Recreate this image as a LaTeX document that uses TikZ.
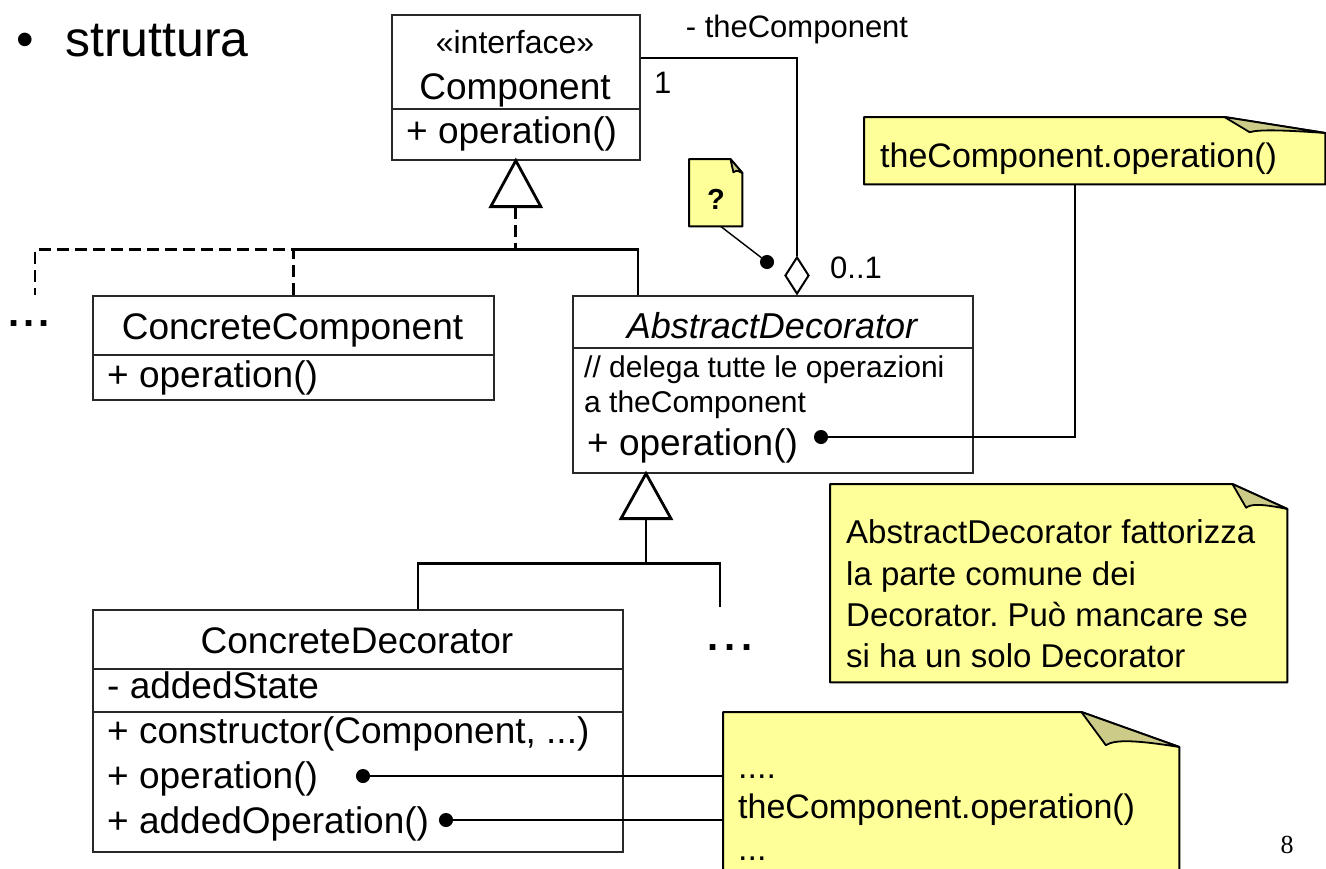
\documentclass[tikz,border=0pt]{standalone}
\usepackage{fontspec}
\setmainfont{Liberation Sans}
\newfontfamily\numfont{Liberation Serif}
\usetikzlibrary{calc,shapes.geometric}
\frenchspacing

\definecolor{notebg}{RGB}{255,255,153}
\definecolor{notefold}{RGB}{204,204,136}
\definecolor{boxline}{RGB}{40,40,40}

\newcommand\fs[1]{\fontsize{#1}{#1}\selectfont}

% sticky note: body with a cut corner and a curled flap
\newcommand\drawnote[3]{%
  \path[draw=black, line width=2, fill=notebg, line join=round]
    (#1.north west) -- ($(#1.north east)+(-#2,0)$) -- ($(#1.north east)+(0,#3)$)
    -- (#1.south east) -- (#1.south west) -- cycle;
  \path[draw=black, line width=1.8, fill=notefold, line join=round]
    ($(#1.north east)+(-#2,0)$) -- ($(#1.north east)+(-0.75*#2,0.95*#3)$)
    .. controls ($(#1.north east)+(-0.66*#2,0.78*#3)$) and ($(#1.north east)+(-0.45*#2,0.8*#3)$)
    .. ($(#1.north east)+(0,#3)$) -- cycle;
}

\tikzset{
  classbox/.style={draw=boxline, line width=1.6, fill=white, inner sep=0, anchor=north west},
  divider/.style={draw=boxline, line width=1.6},
  notebody/.style={inner sep=0, anchor=north west},
  txt/.style={inner sep=0, font=\fs{37}},
  small/.style={inner sep=0, font=\fs{30}},
  lbl/.style={inner sep=0, font=\fs{31}},
  notetxt/.style={inner sep=0, font=\fs{34}, anchor=base west},
  dots/.style={inner sep=0, font=\fs{40}\bfseries, anchor=base west},
  genline/.style={line width=2.8, line join=miter},
  gendash/.style={line width=2.8, dash pattern=on 12pt off 6pt},
  assoc/.style={line width=2.2},
  noteline/.style={line width=1.4},
  dot/.style={circle, fill=black, draw=black, line width=1pt, inner sep=0pt, minimum size=13pt},
}

\begin{document}
\begin{tikzpicture}[x=1pt,y=-1pt]
\useasboundingbox (0,0) rectangle (1326,868);
\fill[white] (0,0) rectangle (1326,868);

% heading
\node[inner sep=0, font=\fs{50}, anchor=base] (bullet) at (25,56) {•};
\node[inner sep=0, font=\fs{50}, anchor=base west] (title) at (65,56) {struttura};

% ---- Component interface
\node[classbox, minimum width=248, minimum height=145] (comp) at (391,14) {};
\draw[divider] ($(comp.north west)+(0,95)$) -- ($(comp.north east)+(0,95)$);
\node[txt, font=\fs{32}, anchor=base] (compst) at (515,53) {«interface»};
\node[txt, anchor=base] (compname) at (515,99) {Component};
\node[txt, anchor=base west] (compop) at (406,143) {+ operation()};

% ---- ConcreteComponent
\node[classbox, minimum width=401, minimum height=104] (cc) at (92,295) {};
\draw[divider] ($(cc.north west)+(0,60)$) -- ($(cc.north east)+(0,60)$);
\node[txt, anchor=base] (ccname) at (292.5,339) {ConcreteComponent};
\node[txt, anchor=base west] (ccop) at (107,387) {+ operation()};

% ---- AbstractDecorator
\node[classbox, minimum width=400, minimum height=177] (absdec) at (572,295) {};
\draw[divider] ($(absdec.north west)+(0,53)$) -- ($(absdec.north east)+(0,53)$);
\node[txt, font=\fs{36}\itshape, anchor=base] (adname) at (772,338) {AbstractDecorator};
\node[small, anchor=base west] (adcom1) at (584,377) {// delega tutte le operazioni};
\node[small, anchor=base west] (adcom2) at (584,412) {a theComponent};
\node[txt, anchor=base west] (adop) at (587,455) {+ operation()};

% ---- ConcreteDecorator
\node[classbox, minimum width=530, minimum height=242] (cd) at (92,609) {};
\draw[divider] ($(cd.north west)+(0,60)$) -- ($(cd.north east)+(0,60)$);
\draw[divider] ($(cd.north west)+(0,103)$) -- ($(cd.north east)+(0,103)$);
\node[txt, anchor=base] (cdname) at (357,653) {ConcreteDecorator};
\node[txt, anchor=base west] (cdstate) at (107,698) {- addedState};
\node[txt, anchor=base west] (cdctor) at (107,743) {+ constructor(Component, ...)};
\node[txt, anchor=base west] (cdop) at (107,788) {+ operation()};
\node[txt, anchor=base west] (cdadd) at (107,833) {+ addedOperation()};

% ---- "more classes" markers
\node[dots] (moreA) at (8,326) {.\kern4pt.\kern4pt.};
\node[dots] (moreB) at (707,650) {.\kern6pt.\kern6pt.};

% ---- realization of Component
\draw[genline, fill=white] (comp.south) -- ++(-25,46) -- ++(50,0) -- cycle;
\coordinate (g1base) at ($(comp.south)+(0,46)$);
\coordinate (g1join) at ($(comp.south)+(0,89)$);
\coordinate (adtop) at ($(absdec.north west)+(66,0)$);
\coordinate (moreAend) at (35,295);
\draw[genline] (cc.north |- g1join) -- (adtop |- g1join) -- (adtop);
\draw[gendash] (g1base) -- (g1join);
\draw[gendash] (cc.north) -- (cc.north |- g1join) -- (moreAend |- g1join) -- (moreAend);

% ---- specialization of AbstractDecorator
\coordinate (g2apex) at ($(absdec.south west)+(74,0)$);
\draw[genline, fill=white] (g2apex) -- ++(-25,45) -- ++(50,0) -- cycle;
\coordinate (g2base) at ($(g2apex)+(0,45)$);
\coordinate (g2join) at ($(g2apex)+(0,90)$);
\coordinate (cdtop) at ($(cd.north west)+(326,0)$);
\coordinate (moreBend) at (720,607);
\draw[genline] (g2base) -- (g2join);
\draw[genline] (cdtop) -- (cdtop |- g2join) -- (moreBend |- g2join) -- (moreBend);

% ---- aggregation theComponent
\node[diamond, draw, line width=2, fill=white, minimum width=24, minimum height=37,
      inner sep=0, anchor=south] (agg) at ($(absdec.north west)+(225,0)$) {};
\draw[assoc] (agg.north) |- ($(comp.north east)+(0,44)$);
\node[lbl, anchor=base] (rolename) at (797,37) {- theComponent};
\node[lbl, anchor=base west] (multone) at (654,93) {1};
\node[lbl, anchor=base west] (multopt) at (830,278) {0..1};

% ---- notes
\node[notebody, minimum width=461, minimum height=67] (n1) at (864,117) {};
\drawnote{n1}{101}{16}
\node[notetxt] (n1txt) at (880,167) {theComponent.operation()};

\node[notebody, minimum width=457, minimum height=198] (n2) at (830,484) {};
\drawnote{n2}{55}{25}
\node[notetxt, font=\fs{33}] (n2l1) at (846,543) {AbstractDecorator fattorizza};
\node[notetxt, font=\fs{33}] (n2l2) at (846,585) {la parte comune dei};
\node[notetxt, font=\fs{33}] (n2l3) at (846,626) {Decorator. Può mancare se};
\node[notetxt, font=\fs{33}] (n2l4) at (846,667) {si ha un solo Decorator};

\node[notebody, minimum width=456, minimum height=170] (n3) at (723,712) {};
\drawnote{n3}{98}{35}
\node[notetxt] (n3l1) at (738,778) {....};
\node[notetxt] (n3l2) at (738,818) {theComponent.operation()};
\node[notetxt] (n3l3) at (738,860) {...};

\node[notebody, minimum width=53, minimum height=67] (n4) at (689,159) {};
\drawnote{n4}{12}{14}
\node[inner sep=0, font=\fs{29}\bfseries, anchor=base] (n4txt) at (716,209) {?};

% ---- note anchors
\node[dot] (dAD) at (821,437) {};
\coordinate (n1foot) at ($(n1.south west)+(211,0)$);
\draw[noteline] (dAD) -- (dAD -| n1foot) -- (n1foot);

\node[dot] (dCDop) at (363,776) {};
\node[dot] (dCDadd) at (446,820) {};
\draw[noteline] (dCDop) -- (dCDop -| n3.west);
\draw[noteline] (dCDadd) -- (dCDadd -| n3.west);

\node[dot] (dQ) at (767,262) {};
\draw[noteline] ($(n4.south)+(5,0)$) -- (dQ);

% page number
\node[inner sep=0, font=\numfont\fs{26}, anchor=base] (pagenum) at (1287,853) {8};
\end{tikzpicture}
\end{document}
